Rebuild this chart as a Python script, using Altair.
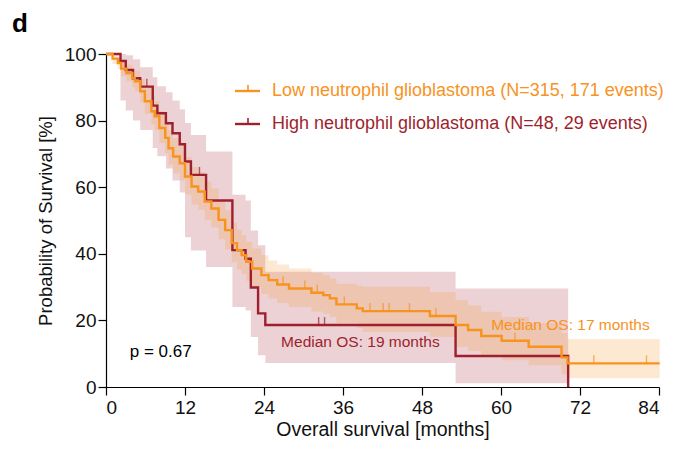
import altair as alt
import pandas as pd

# ---------------- data ----------------
low_time  = [0, 1.0, 1.8, 2.3, 3.1, 4.0, 4.4, 5.2, 5.9, 6.9, 7.4, 8.1, 9.0, 9.5, 10.2, 11.2, 12.0, 13.0, 14.0, 15.0,
             16.0, 17.1, 18.1, 19.1, 19.9, 20.6, 21.3, 22.2, 23.6, 24.7, 26.0, 27.8, 31.2, 33.0, 34.0, 35.0, 38.1, 39.0,
             49.2, 53.1, 55.0, 57.0, 60.1, 64.2, 69.2, 70.1, 84.1]
low_surv  = [100, 98.6, 97.3, 95.6, 94.3, 92.8, 91.8, 88.8, 85.8, 82.8, 81.3, 77.8, 74.8, 71.7, 69.2, 67.2, 63.2, 60.2, 58.7, 55.7,
             53.6, 50.2, 47.1, 43.2, 41.1, 39.6, 37.6, 35.6, 33.6, 32.1, 30.8, 29.6, 28.3, 27.6, 26.6, 24.8, 23.6, 22.8,
             21.3, 18.6, 17.1, 15.3, 13.9, 12.1, 8.9, 7.1, 7.1]
low_lower = [100, 97.0, 95.5, 93.3, 91.8, 90.0, 88.8, 85.4, 82.0, 78.8, 77.2, 73.3, 70.1, 66.8, 64.2, 62.0, 57.8, 54.8, 53.2, 50.1,
             47.9, 44.4, 41.3, 37.4, 35.3, 33.9, 31.9, 30.0, 28.0, 26.6, 25.2, 24.0, 22.7, 22.0, 21.0, 19.2, 17.8, 16.5,
             15.1, 12.1, 10.8, 9.2, 8.0, 6.5, 3.8, 2.6, 2.6]
low_upper = [100, 99.6, 98.8, 97.8, 96.8, 95.6, 94.9, 92.5, 89.9, 87.2, 85.9, 82.8, 80.1, 77.2, 74.7, 72.8, 69.0, 66.0, 64.5, 61.6,
             59.6, 56.2, 53.1, 49.3, 47.2, 45.6, 43.6, 41.6, 39.6, 38.0, 36.8, 35.6, 34.3, 33.6, 32.6, 31.0, 30.4, 30.1,
             28.5, 26.1, 24.5, 22.6, 21.0, 19.2, 16.2, 14.4, 14.4]

high_time  = [0, 2.2, 3.0, 4.1, 5.2, 7.1, 7.8, 9.1, 10.1, 11.2, 12.0, 12.9, 15.2, 19.2, 21.2, 22.0, 23.1, 24.2, 53.1, 70.2]
high_surv  = [100, 97.9, 95.2, 92.7, 90.2, 84.5, 82.2, 79.2, 76.2, 72.9, 67.7, 63.7, 56.0, 41.1, 38.5, 29.9, 22.1, 18.6, 9.3, 0]
high_lower = [100, 86.0, 83.0, 80.0, 77.2, 71.8, 69.3, 65.6, 62.0, 58.4, 45.0, 41.0, 36.0, 24.0, 23.0, 15.0, 9.5, 7.2, 1.1, 1.1]
high_upper = [100, 100, 99.6, 98.4, 96.0, 93.0, 90.3, 88.5, 86.0, 83.4, 79.3, 75.7, 70.7, 57.7, 56.0, 47.0, 42.6, 34.6, 29.6, 29.6]

low_cens_time  = [26.9, 30.2, 32.1, 36.2, 40.1, 42.1, 43.0, 46.1, 50.1, 62.1, 74.1, 82.1]
low_cens_surv  = [30.8, 29.6, 28.3, 24.8, 22.8, 22.8, 22.8, 22.8, 21.3, 13.9, 7.1, 7.1]
high_cens_time = [6.2, 14.2, 32.3, 33.2]
high_cens_surv = [90.2, 63.7, 18.6, 18.6]

legend_labels = ["Low neutrophil glioblastoma (N=315, 171 events)",
                 "High neutrophil glioblastoma (N=48, 29 events)"]
notes_text = ["p = 0.67", "Median OS: 19 months", "Median OS: 17 months"]
notes_x = [3.6, 26.6, 58.5]
notes_y = [10.5, 13.5, 18.6]
notes_size = [17, 15.5, 15.5]

ORANGE = "#F7931E"
DARKRED = "#9E1F2E"
FONT = "Liberation Sans"

W, H = 553, 333

low = pd.DataFrame({"t": low_time, "s": low_surv, "lo": low_lower, "hi": low_upper})
high = pd.DataFrame({"t": high_time, "s": high_surv, "lo": high_lower, "hi": high_upper})
lowc = pd.DataFrame({"t": low_cens_time, "s": low_cens_surv})
highc = pd.DataFrame({"t": high_cens_time, "s": high_cens_surv})

xscale = alt.Scale(domain=[0, 84], nice=False, zero=False)
yscale = alt.Scale(domain=[0, 100], nice=False)

xaxis = alt.Axis(values=list(range(0, 85, 6)), labelExpr="datum.value % 12 == 0 ? datum.label : ''",
                 title="Overall survival [months]", grid=False, tickSize=8, labelPadding=3,
                 titlePadding=3, titleFontSize=19.5)
yaxis = alt.Axis(values=list(range(0, 101, 10)), labelExpr="datum.value % 20 == 0 ? datum.label : ''",
                 title="Probability of Survival [%]", grid=False, tickSize=8, labelPadding=2,
                 titlePadding=9, titleFontSize=18.5)

def band(df, color):
    return alt.Chart(df).mark_area(interpolate="step-after", color=color, opacity=0.2).encode(
        x=alt.X("t:Q", scale=xscale, axis=xaxis),
        y=alt.Y("lo:Q", scale=yscale, axis=yaxis),
        y2="hi:Q",
    )

def line(df, color):
    return alt.Chart(df).mark_line(interpolate="step-after", color=color, strokeWidth=2.4).encode(
        x=alt.X("t:Q", scale=xscale), y=alt.Y("s:Q", scale=yscale))

def cens(df, color):
    return alt.Chart(df).mark_tick(orient="vertical", color=color, size=8, thickness=1.4, yOffset=-4).encode(
        x=alt.X("t:Q", scale=xscale), y=alt.Y("s:Q", scale=yscale))

layers = [
    band(high, DARKRED),
    band(low, ORANGE),
    line(high, DARKRED),
    line(low, ORANGE),
    cens(highc, DARKRED),
    cens(lowc, ORANGE),
]

# legend
leg_colors = [ORANGE, DARKRED]
leg_y = [37, 70]
for lab, col, yy in zip(legend_labels, leg_colors, leg_y):
    d = pd.DataFrame({"label": [lab]})
    base = alt.Chart(d)
    layers.append(base.mark_rule(color=col, strokeWidth=2.4).encode(
        x=alt.value(129), x2=alt.value(154), y=alt.value(yy)))
    layers.append(base.mark_rule(color=col, strokeWidth=1.6).encode(
        x=alt.value(142), y=alt.value(yy - 6), y2=alt.value(yy)))
    layers.append(base.mark_text(align="left", baseline="middle", font=FONT, fontSize=18, color=col).encode(
        x=alt.value(166), y=alt.value(yy), text="label:N"))

notes = pd.DataFrame({"text": notes_text, "x": notes_x, "y": notes_y, "size": notes_size,
                      "c": ["#000000", DARKRED, ORANGE]})
layers.append(alt.Chart(notes).mark_text(align="left", baseline="middle", font=FONT).encode(
    x=alt.X("x:Q", scale=xscale), y=alt.Y("y:Q", scale=yscale), text="text:N",
    color=alt.Color("c:N", scale=None), size=alt.Size("size:Q", scale=None)))

panel = pd.DataFrame({"p": ["d"]})
layers.append(alt.Chart(panel).mark_text(align="left", baseline="alphabetic", font=FONT, fontSize=26,
                                         fontWeight="bold", color="black").encode(
    x=alt.value(-94), y=alt.value(-22), text="p:N"))

chart = alt.layer(*layers).properties(
    width=W, height=H, autosize="none",
    padding={"left": 98, "top": 46, "right": 25, "bottom": 55},
).configure_view(stroke=None).configure_axis(
    domainColor="black", tickColor="black", labelColor="#111111", titleColor="#111111",
    labelFont=FONT, titleFont=FONT, labelFontSize=19, titleFontSize=19,
    titleFontWeight="normal", domainWidth=1.2, tickWidth=1.2,
)

chart.save("out.html", embed_options={"renderer": "svg", "actions": False})
